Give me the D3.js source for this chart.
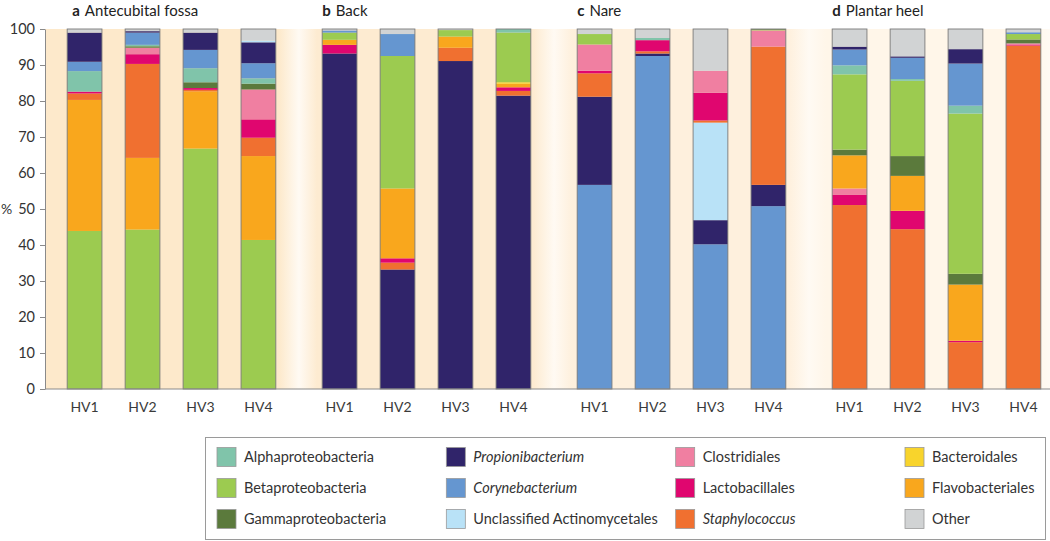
<!DOCTYPE html>
<html><head><meta charset="utf-8">
<script src="https://cdn.jsdelivr.net/npm/d3@7"></script>
<style>
html,body{margin:0;padding:0;background:#fff;}
svg{display:block;font-family:Lato,"Open Sans",sans-serif;}
</style></head>
<body><svg id="chart" width="1050" height="541"></svg>
<script>
// ---------- DATA ----------
const sites = ["Antecubital fossa", "Back", "Nare", "Plantar heel"];
const siteLetters = ["a", "b", "c", "d"];
const samples = ["HV1", "HV2", "HV3", "HV4"];
const taxa = ["Alphaproteobacteria", "Betaproteobacteria", "Gammaproteobacteria",
  "Propionibacterium", "Corynebacterium", "Unclassified Actinomycetales",
  "Clostridiales", "Lactobacillales", "Staphylococcus",
  "Bacteroidales", "Flavobacteriales", "Other"];
const taxaColors = ["#80c4aa", "#9ccb50", "#5b7a3c",
  "#30246a", "#6596d0", "#b9e2f7",
  "#f07fa1", "#e0066f", "#f07030",
  "#f8d42c", "#f9a71d", "#d1d3d4"];
const italicTaxa = ["Propionibacterium", "Corynebacterium", "Staphylococcus"];
const yTicks = [0, 10, 20, 30, 40, 50, 60, 70, 80, 90, 100];

// rows = samples HV1..HV4, columns = taxa (same order as `taxa`), values in %
const antecubitalFossa = [
  [5.7, 43.9, 0.0, 8.1, 2.6, 0.0, 0.0, 0.5, 1.8, 0.0, 36.4, 1.0],
  [0.4, 44.3, 0.4, 0.4, 3.4, 0.0, 1.8, 2.7, 26.1, 0.0, 19.9, 0.6],
  [3.9, 66.8, 1.6, 4.8, 5.1, 0.0, 0.0, 0.5, 0.4, 0.0, 15.9, 1.0],
  [1.5, 41.4, 1.6, 5.8, 4.2, 0.5, 8.3, 5.1, 5.1, 0.0, 23.3, 3.2]
];
const back = [
  [0.0, 2.0, 0.0, 93.2, 0.6, 0.0, 0.0, 2.4, 0.0, 0.0, 1.4, 0.4],
  [0.0, 36.8, 0.0, 33.2, 6.1, 0.0, 0.0, 1.2, 1.9, 0.0, 19.4, 1.4],
  [0.0, 1.8, 0.0, 91.1, 0.0, 0.0, 0.0, 0.0, 3.7, 0.0, 3.1, 0.3],
  [1.0, 13.8, 0.0, 81.5, 0.0, 0.0, 0.0, 1.0, 1.3, 0.4, 1.0, 0.0]
];
const nare = [
  [0.0, 2.9, 0.0, 24.5, 56.7, 0.0, 7.3, 0.7, 6.5, 0.0, 0.0, 1.4],
  [0.6, 0.0, 0.0, 0.7, 92.5, 0.0, 0.0, 3.1, 0.6, 0.0, 0.0, 2.5],
  [0.0, 0.0, 0.0, 6.7, 40.2, 27.1, 6.1, 7.7, 0.6, 0.0, 0.0, 11.6],
  [0.0, 0.2, 0.2, 5.9, 50.8, 0.0, 4.5, 0.0, 38.4, 0.0, 0.0, 0.0]
];
const plantarHeel = [
  [2.5, 20.9, 1.6, 0.8, 4.4, 0.0, 1.8, 2.8, 51.1, 0.0, 9.2, 4.9],
  [0.5, 20.9, 5.5, 0.4, 5.9, 0.0, 0.0, 5.1, 44.4, 0.0, 9.7, 7.6],
  [2.2, 44.5, 3.0, 4.0, 11.7, 0.0, 0.0, 0.4, 13.0, 0.0, 15.6, 5.6],
  [0.0, 1.5, 1.1, 0.0, 0.5, 0.0, 0.3, 0.3, 95.4, 0.0, 0.0, 0.9]
];
// stacking order (bottom -> top) per site, as taxon names
const antecubitalOrder = ["Betaproteobacteria", "Flavobacteriales", "Staphylococcus", "Lactobacillales", "Clostridiales", "Bacteroidales", "Gammaproteobacteria", "Alphaproteobacteria", "Corynebacterium", "Propionibacterium", "Unclassified Actinomycetales", "Other"];
const backOrder = ["Propionibacterium", "Staphylococcus", "Lactobacillales", "Flavobacteriales", "Bacteroidales", "Betaproteobacteria", "Gammaproteobacteria", "Alphaproteobacteria", "Corynebacterium", "Unclassified Actinomycetales", "Clostridiales", "Other"];
const nareOrder = ["Corynebacterium", "Propionibacterium", "Unclassified Actinomycetales", "Staphylococcus", "Lactobacillales", "Clostridiales", "Flavobacteriales", "Bacteroidales", "Betaproteobacteria", "Gammaproteobacteria", "Alphaproteobacteria", "Other"];
const plantarOrder = ["Staphylococcus", "Lactobacillales", "Clostridiales", "Flavobacteriales", "Bacteroidales", "Gammaproteobacteria", "Betaproteobacteria", "Alphaproteobacteria", "Corynebacterium", "Unclassified Actinomycetales", "Propionibacterium", "Other"];

const siteData = [antecubitalFossa, back, nare, plantarHeel];
const siteOrders = [antecubitalOrder, backOrder, nareOrder, plantarOrder];

// ---------- DRAW ----------
const svg = d3.select("#chart");
const color = d3.scaleOrdinal().domain(taxa).range(taxaColors);
const y = d3.scaleLinear().domain([0, 100]).range([389, 29]);
const xSite = d3.scaleBand().domain(sites).range([44, 1064]);
const xSample = d3.scaleBand().domain(samples).range([0, xSite.bandwidth()])
  .paddingInner(0.4).paddingOuter(0.4);

// backgrounds
const defs = svg.append("defs");
const cores = ["#fde9cb", "#fdebd1", "#fef0dd", "#fff6e9"];
const edge = "#fffaf3";
sites.forEach((s, i) => {
  const g = defs.append("linearGradient").attr("id", "bg" + i)
    .attr("x1", "0").attr("x2", "1").attr("y1", "0").attr("y2", "0");
  g.append("stop").attr("offset", "0").attr("stop-color", i === 0 ? cores[0] : edge);
  g.append("stop").attr("offset", "0.07").attr("stop-color", cores[i]);
  g.append("stop").attr("offset", "0.92").attr("stop-color", cores[i]);
  g.append("stop").attr("offset", "1").attr("stop-color", edge);
});
svg.append("g").selectAll("rect").data(sites).join("rect")
  .attr("x", d => Math.max(45, xSite(d)))
  .attr("y", y(100))
  .attr("width", d => Math.min(1050, xSite(d) + xSite.bandwidth()) - Math.max(45, xSite(d)))
  .attr("height", y(0) - y(100))
  .attr("fill", (d, i) => `url(#bg${i})`);

// bars
sites.forEach((site, si) => {
  const rows = siteData[si].map((vals, k) => {
    const o = { sample: samples[k] };
    taxa.forEach((t, j) => o[t] = vals[j]);
    return o;
  });
  const series = d3.stack().keys(siteOrders[si]).order(d3.stackOrderNone)(rows);
  const g = svg.append("g").attr("transform", `translate(${xSite(site)},0)`);
  g.selectAll("g.s").data(series).join("g").attr("class", "s")
    .attr("fill", d => color(d.key))
    .selectAll("rect").data(d => d.filter(p => p[1] - p[0] > 0)).join("rect")
    .attr("x", p => xSample(p.data.sample))
    .attr("width", xSample.bandwidth())
    .attr("y", p => y(p[1]))
    .attr("height", p => y(p[0]) - y(p[1]));
  // outlines
  g.selectAll("rect.outline").data(rows).join("rect").attr("class", "outline")
    .attr("x", d => xSample(d.sample))
    .attr("width", xSample.bandwidth())
    .attr("y", y(100)).attr("height", y(0) - y(100))
    .attr("fill", "none").attr("stroke", "#7a7a7a").attr("stroke-width", 0.9);
  // sample labels
  g.selectAll("text.lab").data(samples).join("text").attr("class", "lab")
    .attr("x", d => xSample(d) + xSample.bandwidth() / 2)
    .attr("y", 412).attr("text-anchor", "middle")
    .attr("font-size", 14).attr("fill", "#3a3a3a").text(d => d);
  // title
  const t = g.append("text").attr("x", xSample(samples[0]) + (si === 0 ? 5 : 0)).attr("y", 16)
    .attr("font-size", 15).attr("fill", "#222");
  t.append("tspan").attr("font-weight", "bold").text(siteLetters[si]);
  t.append("tspan").attr("dx", 5).text(site);
});

// y axis
const ax = svg.append("g").attr("transform", "translate(45,0)")
  .call(d3.axisLeft(y).tickValues(yTicks).tickSize(5).tickSizeOuter(0).tickPadding(5));
ax.select(".domain").attr("stroke", "#8a8a8a");
ax.selectAll(".tick line").attr("stroke", "#8a8a8a");
ax.selectAll(".tick text").attr("font-size", 14.5).attr("fill", "#333")
  .attr("font-family", "Lato, 'Open Sans', sans-serif");
svg.append("text").attr("x", 1).attr("y", y(50)).attr("dy", "0.35em")
  .attr("font-size", 14).attr("fill", "#333").text("%");
// baseline
svg.append("line").attr("x1", 45).attr("x2", 1050).attr("y1", y(0)).attr("y2", y(0))
  .attr("stroke", "#8a8a8a");

// legend
svg.append("rect").attr("x", 205.5).attr("y", 437.5).attr("width", 840).attr("height", 102)
  .attr("fill", "#fff").attr("stroke", "#9a9a9a");
const lx = d3.scalePoint().domain([0, 1, 2, 3]).range([217, 905]);
const ly = d3.scalePoint().domain([0, 1, 2]).range([457, 519]);
const lg = svg.append("g").selectAll("g").data(taxa).join("g")
  .attr("transform", (d, i) => `translate(${lx(Math.floor(i / 3))},${ly(i % 3)})`);
lg.append("rect").attr("x", 0).attr("y", -9.5).attr("width", 19).attr("height", 19)
  .attr("fill", d => color(d)).attr("stroke", "#9a9a9a").attr("stroke-width", 0.8);
lg.append("text").attr("x", 27).attr("dy", "0.35em").attr("font-size", 14.5)
  .attr("fill", "#333")
  .attr("font-style", d => italicTaxa.includes(d) ? "italic" : "normal")
  .text(d => d);
</script></body></html>
